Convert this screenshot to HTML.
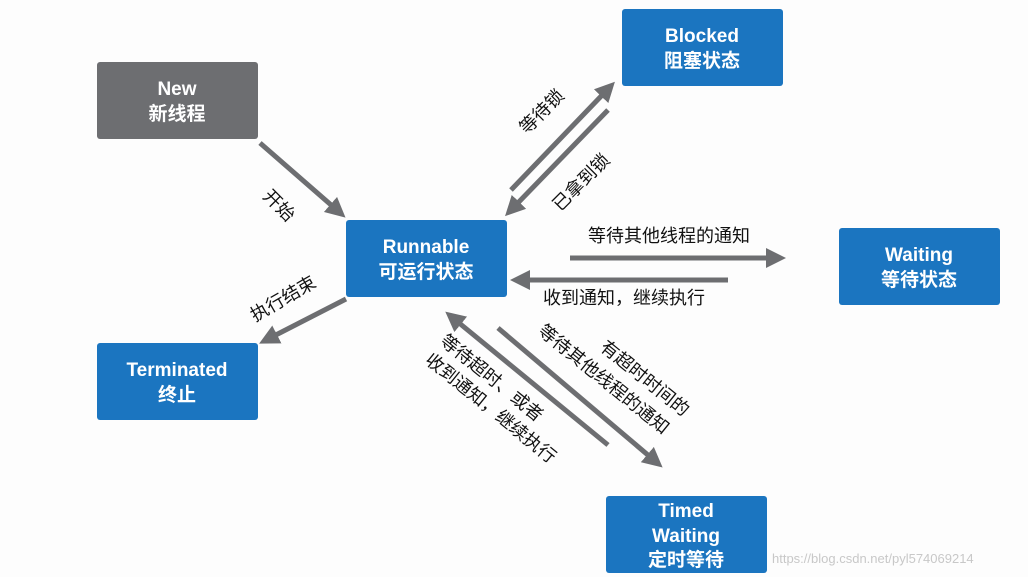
<!DOCTYPE html>
<html><head><meta charset="utf-8"><style>
body{margin:0;background:#fff;}
svg{display:block;font-family:"Liberation Sans","Noto Sans CJK SC",sans-serif;}
.b{font-weight:bold;fill:#fff;font-size:19px;text-anchor:middle}
.l{font-size:18px;fill:#111}
</style></head><body>
<svg width="1028" height="577" viewBox="0 0 1028 577">
<defs>
<marker id="a" markerWidth="4" markerHeight="4" refX="2" refY="2" orient="auto" markerUnits="strokeWidth"><path d="M0,0 L4,2 L0,4 Z" fill="#6d6e71"/></marker>
</defs>
<rect width="1028" height="577" fill="#fdfdfd"/>
<g fill="#1b75c0">
<rect x="97" y="62" width="161" height="77" rx="3" fill="#6d6e71"/>
<rect x="622" y="9" width="161" height="77" rx="3"/>
<rect x="346" y="220" width="161" height="77" rx="3"/>
<rect x="839" y="228" width="161" height="77" rx="3"/>
<rect x="97" y="343" width="161" height="77" rx="3"/>
<rect x="606" y="496" width="161" height="77" rx="3"/>
</g>
<text class="b" x="177" y="95">New</text><text class="b" x="177" y="120">新线程</text>
<text class="b" x="702" y="42">Blocked</text><text class="b" x="702" y="67">阻塞状态</text>
<text class="b" x="426" y="253">Runnable</text><text class="b" x="426" y="278">可运行状态</text>
<text class="b" x="919" y="261">Waiting</text><text class="b" x="919" y="286">等待状态</text>
<text class="b" x="177" y="376">Terminated</text><text class="b" x="177" y="401">终止</text>
<text class="b" x="686" y="517">Timed</text><text class="b" x="686" y="542">Waiting</text><text class="b" x="686" y="566">定时等待</text>
<g stroke="#6d6e71" stroke-width="5" fill="none" marker-end="url(#a)">
<line x1="260" y1="143" x2="338" y2="211"/>
<line x1="346" y1="299" x2="268" y2="339"/>
<line x1="511" y1="190" x2="608" y2="89"/>
<line x1="608" y1="110" x2="512" y2="209"/>
<line x1="570" y1="258" x2="776" y2="258"/>
<line x1="728" y1="280" x2="520" y2="280"/>
<line x1="608" y1="445" x2="453" y2="318"/>
<line x1="498" y1="328" x2="655" y2="461"/>
</g>
<text class="l" transform="translate(262,197) rotate(45)">开始</text>
<text class="l" transform="translate(255,322) rotate(-30)">执行结束</text>
<text class="l" transform="translate(527,135) rotate(-45)">等待锁</text>
<text class="l" transform="translate(560,212) rotate(-45)">已拿到锁</text>
<text class="l" x="588" y="242">等待其他线程的通知</text>
<text class="l" x="543" y="304">收到通知，继续执行</text>
<text class="l" transform="translate(439,343) rotate(39)">等待超时、或者</text>
<text class="l" transform="translate(424,362) rotate(39)">收到通知，继续执行</text>
<text class="l" transform="translate(599,349) rotate(39)">有超时时间的</text>
<text class="l" transform="translate(537,333) rotate(39)">等待其他线程的通知</text>
<text x="772" y="563" font-size="13" fill="#c8c8c8">https://blog.csdn.net/pyl574069214</text>
</svg>
</body></html>
